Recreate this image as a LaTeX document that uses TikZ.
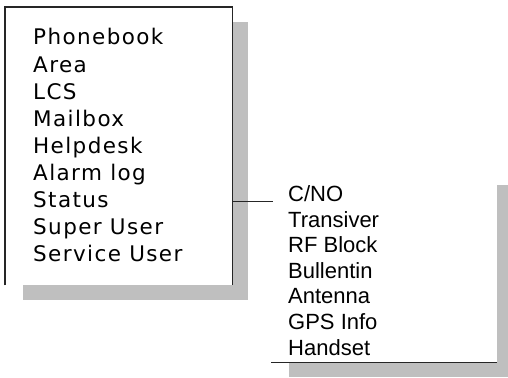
\documentclass[tikz,border=0pt]{standalone}
\usepackage{fontspec}
\newfontfamily\menufont[LetterSpace=6.5]{DejaVu Sans}
\newfontfamily\subfont{Liberation Sans}
\usetikzlibrary{positioning}

\begin{document}
\begin{tikzpicture}[x=1pt,y=-1pt,
  panel/.style={fill=white,inner sep=0pt,anchor=north west},
  mitem/.style={anchor=base west,inner sep=0pt,font=\menufont\fontsize{21.5}{26}\selectfont},
  sitem/.style={anchor=base west,inner sep=0pt,font=\subfont\fontsize{22}{26}\selectfont},
  edge/.style={line width=1.3pt,black!85}]
\useasboundingbox (0,0) rectangle (508,377);
\fill[gray!50] (23,22) rectangle (248,300);
\fill[gray!50] (289,185) rectangle (508,377);
\node[panel,minimum width=227pt,minimum height=278pt] (main) at (5,7) {};
\node[panel,minimum width=226pt,minimum height=192pt] (sub) at (271,170) {};
\draw[edge] (main.south west)--(main.north west)--(main.north east)--(main.south east);
\draw[edge] (sub.south west)--(sub.south east);
\foreach \t [count=\i] in {Phonebook,Area,LCS,Mailbox,Helpdesk,Alarm log,Status,Super User,Service User}
  \node[mitem] (m\i) at (33,45+27.1*\i-27.1) {\t};
\foreach \t [count=\i] in {C/NO,Transiver,RF Block,Bullentin,Antenna,GPS Info,Handset}
  \node[sitem] (s\i) at (288,201.7+25.55*\i-25.55) {\t};
\draw[edge] (main.east |- s1.base) -- ([xshift=2pt]sub.west |- s1.base);
\end{tikzpicture}
\end{document}
